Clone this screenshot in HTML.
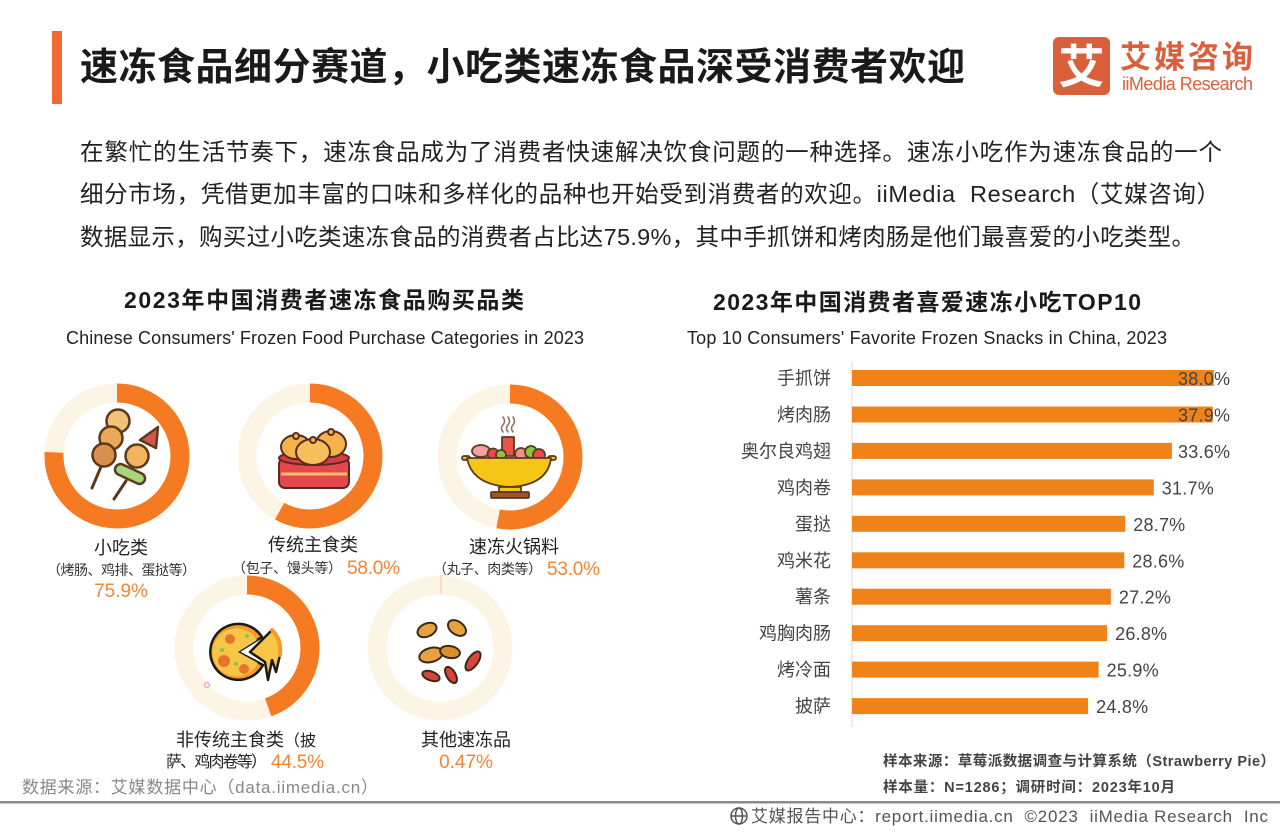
<!DOCTYPE html>
<html><head><meta charset="utf-8"><style>
html,body{margin:0;padding:0;background:#fff;}
svg{display:block;}
text{font-family:"Liberation Sans","Noto Sans CJK SC",sans-serif;}
</style></head><body>
<svg width="1280" height="832" viewBox="0 0 1280 832" xmlns="http://www.w3.org/2000/svg">
<rect width="1280" height="832" fill="#fff"/>

<!-- Header -->
<rect x="52" y="31" width="10" height="73" fill="#F26A30"/>
<text x="80" y="80" font-size="38" font-weight="bold" fill="#1a1a1a" textLength="885">速冻食品细分赛道，小吃类速冻食品深受消费者欢迎</text>

<!-- Logo -->
<rect x="1053" y="37" width="57" height="58" rx="6" fill="#D9603B"/>
<text x="1081.5" y="83" font-size="46" font-weight="bold" fill="#fff" text-anchor="middle">艾</text>
<text x="1120" y="68" font-size="31" font-weight="bold" fill="#D9603B" textLength="133">艾媒咨询</text>
<text x="1122" y="90" font-size="18" fill="#D9603B" textLength="131">iiMedia Research</text>

<!-- Paragraph -->
<text x="80" y="160" font-size="23.5" fill="#222" textLength="1142">在繁忙的生活节奏下，速冻食品成为了消费者快速解决饮食问题的一种选择。速冻小吃作为速冻食品的一个</text>
<text x="80" y="202" font-size="23.5" fill="#222" textLength="1140" style="white-space:pre">细分市场，凭借更加丰富的口味和多样化的品种也开始受到消费者的欢迎。iiMedia  Research（艾媒咨询）</text>
<text x="80" y="245" font-size="23.5" fill="#222" textLength="1115">数据显示，购买过小吃类速冻食品的消费者占比达75.9%，其中手抓饼和烤肉肠是他们最喜爱的小吃类型。</text>

<!-- Chart titles -->
<text x="124" y="308" font-size="23" font-weight="bold" fill="#1a1a1a" textLength="400">2023年中国消费者速冻食品购买品类</text>
<text x="66" y="344" font-size="18" fill="#222" textLength="518">Chinese Consumers' Frozen Food Purchase Categories in 2023</text>
<text x="713" y="310" font-size="23" font-weight="bold" fill="#1a1a1a" textLength="428">2023年中国消费者喜爱速冻小吃TOP10</text>
<text x="687" y="344" font-size="18" fill="#222" textLength="480">Top 10 Consumers' Favorite Frozen Snacks in China, 2023</text>

<!-- Donuts -->
<g fill="none" stroke-width="19">
  <circle cx="117" cy="456" r="63" stroke="#FCF4E5"/>
  <circle cx="117" cy="456" r="63" stroke="#F57A22" stroke-dasharray="300.4 400" transform="rotate(-90 117 456)"/>
  <circle cx="310" cy="456" r="63" stroke="#FCF4E5"/>
  <circle cx="310" cy="456" r="63" stroke="#F57A22" stroke-dasharray="229.6 400" transform="rotate(-90 310 456)"/>
  <circle cx="510" cy="457" r="63" stroke="#FCF4E5"/>
  <circle cx="510" cy="457" r="63" stroke="#F57A22" stroke-dasharray="209.8 400" transform="rotate(-90 510 457)"/>
  <circle cx="247" cy="648" r="63" stroke="#FCF4E5"/>
  <circle cx="247" cy="648" r="63" stroke="#F57A22" stroke-dasharray="176.2 400" transform="rotate(-90 247 648)"/>
  <circle cx="440" cy="648" r="63" stroke="#FCF4E5"/>
  <circle cx="440" cy="648" r="63" stroke="#F5DDBF" stroke-dasharray="1.9 400" transform="rotate(-90 440 648)"/>
</g>

<!-- Icon 1: skewers -->
<g stroke="#5C3A1E" stroke-width="2.5" stroke-linejoin="round" stroke-linecap="round">
  <line x1="103" y1="462" x2="92" y2="488" stroke-width="3"/>
  <line x1="126" y1="481" x2="114" y2="499" stroke-width="3"/>
  <circle cx="118" cy="421" r="11.5" fill="#F2C27A"/>
  <circle cx="111" cy="438" r="11.5" fill="#EBA856"/>
  <circle cx="104" cy="455" r="11.5" fill="#D9904A"/>
  <polygon points="140,440 158,427 156,448" fill="#D9534F"/>
  <circle cx="137" cy="456" r="11.5" fill="#F2B45C"/>
  <rect x="114" y="468.5" width="32" height="11" rx="5.5" fill="#A8D47A" transform="rotate(25 130 474)"/>
</g>

<!-- Icon 2: buns in steamer -->
<g stroke="#5a2a22" stroke-width="2" stroke-linejoin="round">
  <rect x="279" y="458" width="70" height="30" rx="6" fill="#E5474D"/>
  <line x1="281" y1="474" x2="347" y2="474" stroke="#F5C26B" stroke-width="3"/>
  <ellipse cx="314" cy="458" rx="35" ry="7" fill="#D63C44"/>
  <ellipse cx="296" cy="447" rx="15" ry="12" fill="#F5B24A"/>
  <ellipse cx="331" cy="444" rx="15" ry="13" fill="#F5B24A"/>
  <ellipse cx="313" cy="452" rx="17" ry="13" fill="#F7BE5C"/>
  <circle cx="313" cy="440" r="3" fill="#F5B24A"/>
  <circle cx="331" cy="432" r="3" fill="#F5B24A"/>
  <circle cx="296" cy="436" r="3" fill="#F5B24A"/>
</g>

<!-- Icon 3: hot pot -->
<g stroke="#5a3a20" stroke-width="1.8" stroke-linejoin="round" stroke-linecap="round">
  <path d="M503 432 q-3 -4 0 -7 q3 -4 0 -8" fill="none" stroke="#8a6a5a" stroke-width="1.5"/>
  <path d="M508 432 q-3 -4 0 -7 q3 -4 0 -8" fill="none" stroke="#8a6a5a" stroke-width="1.5"/>
  <path d="M513 432 q-3 -4 0 -7 q3 -4 0 -8" fill="none" stroke="#8a6a5a" stroke-width="1.5"/>
  <rect x="502" y="437" width="12" height="19" fill="#E8524A"/>
  <ellipse cx="481" cy="451" rx="9" ry="6" fill="#F0A0A0"/>
  <circle cx="493" cy="454" r="5.5" fill="#E84A4A"/>
  <circle cx="501" cy="455" r="5" fill="#8CC63F"/>
  <circle cx="521" cy="454" r="6" fill="#F09090"/>
  <circle cx="531" cy="452" r="6" fill="#8CC63F"/>
  <circle cx="539" cy="455" r="6" fill="#E84A4A"/>
  <rect x="462" y="456" width="8" height="4" rx="2" fill="#F5C518"/>
  <rect x="548" y="456" width="8" height="4" rx="2" fill="#F5C518"/>
  <path d="M467 458 L551 458 Q548 485 510 487 Q472 485 467 458 Z" fill="#F5C518"/>
  <rect x="499" y="487" width="22" height="5" fill="#F5C518"/>
  <rect x="491" y="492" width="38" height="6" rx="1" fill="#A0522D"/>
</g>

<!-- Icon 4: pizza -->
<g stroke="#1a1a1a" stroke-width="2.5" stroke-linejoin="round" stroke-linecap="round">
  <path d="M238 652 L262 637 A28 28 0 1 0 263 665 Z" fill="#F39A2A"/>
  <path d="M238 652 L257 640 A24 24 0 1 0 258 663 Z" fill="#F7C548" stroke="none"/>
  <circle cx="230" cy="639" r="5" fill="#E8742A" stroke="none"/>
  <circle cx="224" cy="661" r="6" fill="#E8742A" stroke="none"/>
  <circle cx="244" cy="669" r="5" fill="#E8742A" stroke="none"/>
  <circle cx="222" cy="650" r="2" fill="#8CC63F" stroke="none"/>
  <circle cx="236" cy="664" r="2" fill="#8CC63F" stroke="none"/>
  <circle cx="247" cy="636" r="2" fill="#8CC63F" stroke="none"/>
  <path d="M250 652 L272 630 Q282 640 280 655 L276 672 L272 660 L268 680 L265 662 Z" fill="#F7C548"/>
  <path d="M272 630 Q282 640 280 655" fill="none" stroke="#F39A2A" stroke-width="4"/>
  <circle cx="207" cy="685" r="2.5" fill="none" stroke="#E8A0B0" stroke-width="1.2"/>
</g>

<!-- Icon 5: chips -->
<g stroke="#3a2a1a" stroke-width="2" stroke-linejoin="round">
  <ellipse cx="427" cy="630" rx="10" ry="6.5" fill="#E8A040" transform="rotate(-25 427 630)"/>
  <ellipse cx="457" cy="628" rx="10" ry="6.5" fill="#E8A040" transform="rotate(35 457 628)"/>
  <ellipse cx="431" cy="655" rx="12" ry="7" fill="#E8A040" transform="rotate(-15 431 655)"/>
  <ellipse cx="450" cy="652" rx="10" ry="6" fill="#D8902E" transform="rotate(10 450 652)"/>
  <ellipse cx="473" cy="661" rx="5" ry="11" fill="#D9453A" transform="rotate(35 473 661)"/>
  <ellipse cx="431" cy="676" rx="9" ry="4.5" fill="#D9453A" transform="rotate(20 431 676)"/>
  <ellipse cx="451" cy="675" rx="4.5" ry="9" fill="#D9453A" transform="rotate(-30 451 675)"/>
</g>

<!-- Donut labels -->
<g fill="#222">
  <text x="121" y="554" font-size="18" text-anchor="middle">小吃类</text>
  <text x="47" y="575" font-size="14" fill="#333" textLength="149">（烤肠、鸡排、蛋挞等）</text>
  <text x="121" y="597" font-size="19" fill="#F08535" text-anchor="middle">75.9%</text>

  <text x="313" y="551" font-size="18" text-anchor="middle">传统主食类</text>
  <text x="232" y="573" font-size="14" fill="#333" textLength="110">（包子、馒头等）</text>
  <text x="347" y="574" font-size="19" fill="#F08535" textLength="53">58.0%</text>

  <text x="514" y="553" font-size="18" text-anchor="middle">速冻火锅料</text>
  <text x="433" y="574" font-size="14" fill="#333" textLength="109">（丸子、肉类等）</text>
  <text x="547" y="575" font-size="19" fill="#F08535" textLength="53">53.0%</text>

  <text x="176" y="746" font-size="18" textLength="140">非传统主食类<tspan font-size="16">（披</tspan></text>
  <text x="166" y="767" font-size="16" textLength="101">萨、鸡肉卷等）</text>
  <text x="271" y="768" font-size="19" fill="#F08535" textLength="53">44.5%</text>

  <text x="466" y="746" font-size="18" text-anchor="middle">其他速冻品</text>
  <text x="466" y="768" font-size="19" fill="#F08535" text-anchor="middle">0.47%</text>
</g>

<!-- Bar chart -->
<line x1="852" y1="362" x2="852" y2="727" stroke="#d9d9d9" stroke-width="1"/>
<g fill="#F0821A">
  <rect x="852" y="370" width="361.8" height="16"/>
  <rect x="852" y="406.5" width="360.8" height="16"/>
  <rect x="852" y="442.9" width="319.9" height="16"/>
  <rect x="852" y="479.4" width="301.8" height="16"/>
  <rect x="852" y="515.8" width="273.2" height="16"/>
  <rect x="852" y="552.3" width="272.3" height="16"/>
  <rect x="852" y="588.7" width="258.9" height="16"/>
  <rect x="852" y="625.2" width="255.1" height="16"/>
  <rect x="852" y="661.6" width="246.6" height="16"/>
  <rect x="852" y="698.1" width="236.1" height="16"/>
</g>
<g font-size="18" fill="#444" text-anchor="end">
  <text x="831" y="384.5">手抓饼</text>
  <text x="831" y="421">烤肉肠</text>
  <text x="831" y="457.4">奥尔良鸡翅</text>
  <text x="831" y="493.9">鸡肉卷</text>
  <text x="831" y="530.3">蛋挞</text>
  <text x="831" y="566.8">鸡米花</text>
  <text x="831" y="603.2">薯条</text>
  <text x="831" y="639.7">鸡胸肉肠</text>
  <text x="831" y="676.1">烤冷面</text>
  <text x="831" y="712.6">披萨</text>
</g>
<g font-size="18" fill="#444">
  <text x="1178" y="385" textLength="52">38.0%</text>
  <text x="1178" y="421.5" textLength="52">37.9%</text>
  <text x="1178" y="457.9" textLength="52">33.6%</text>
  <text x="1161.8" y="494.4" textLength="52">31.7%</text>
  <text x="1133.2" y="530.8" textLength="52">28.7%</text>
  <text x="1132.3" y="567.3" textLength="52">28.6%</text>
  <text x="1118.9" y="603.7" textLength="52">27.2%</text>
  <text x="1115.1" y="640.2" textLength="52">26.8%</text>
  <text x="1106.6" y="676.6" textLength="52">25.9%</text>
  <text x="1096.1" y="713.1" textLength="52">24.8%</text>
</g>

<!-- Notes -->
<text x="883" y="766" font-size="14.5" font-weight="bold" fill="#444" textLength="392">样本来源：草莓派数据调查与计算系统（Strawberry Pie）</text>
<text x="883" y="792" font-size="14.5" font-weight="bold" fill="#444" textLength="292">样本量：N=1286；调研时间：2023年10月</text>
<text x="22" y="793" font-size="17" fill="#888" textLength="356">数据来源：艾媒数据中心（data.iimedia.cn）</text>

<!-- Footer -->
<rect x="0" y="801" width="1280" height="2.5" fill="#8a8a8a"/>
<g stroke="#555" stroke-width="1.5" fill="none">
  <circle cx="739" cy="816" r="8"/>
  <ellipse cx="739" cy="816" rx="3.5" ry="8"/>
  <line x1="731" y1="816" x2="747" y2="816"/>
</g>
<text x="751" y="822" font-size="17" fill="#555" textLength="517" style="white-space:pre">艾媒报告中心：report.iimedia.cn  ©2023  iiMedia Research  Inc</text>
</svg>
</body></html>
